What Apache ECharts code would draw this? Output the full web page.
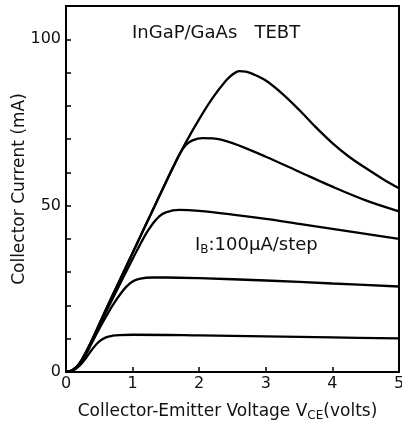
<!DOCTYPE html>
<html>
<head>
<meta charset="utf-8">
<script src="https://cdn.jsdelivr.net/npm/echarts@6/dist/echarts.min.js"></script>
<style>
  html, body { margin: 0; padding: 0; background: #fff; }
  #chart { width: 402px; height: 425px; }
</style>
</head>
<body>
<div id="chart"></div>
<script>
// V_CE (volts), I_C (mA) pairs, one curve per base step
const curve1 = [[0,0],[0.1,0.4],[0.2,1.8],[0.3,4.2],[0.4,7],[0.5,9.2],[0.6,10.4],[0.7,10.9],[0.8,11.1],[1.0,11.2],[2.0,11],[3.0,10.7],[4.0,10.4],[5.0,10.1]]
const curve2 = [[0,0],[0.1,0.5],[0.2,2.2],[0.3,5.3],[0.4,9.2],[0.5,13],[0.6,16.6],[0.7,20],[0.8,23],[0.9,25.5],[1.0,27.2],[1.1,28],[1.3,28.4],[1.5,28.4],[2.0,28.2],[3.0,27.5],[4.0,26.6],[5.0,25.7]]
const curve3 = [[0,0],[0.1,0.6],[0.2,2.4],[0.3,5.8],[0.4,9.8],[0.6,18],[0.8,26],[1.0,34],[1.2,41.5],[1.3,44.5],[1.4,46.8],[1.5,48],[1.7,48.7],[2.0,48.4],[2.5,47.3],[3.0,46],[3.5,44.5],[4.0,43],[4.5,41.5],[5.0,40]]
const curve4 = [[0,0],[0.1,0.6],[0.2,2.5],[0.3,6],[0.4,10],[0.6,18.8],[0.8,27.3],[1.0,35.8],[1.2,44.3],[1.4,52.8],[1.6,61.2],[1.7,65.3],[1.8,68.2],[1.9,69.6],[2.05,70.3],[2.2,70.2],[2.5,68.8],[3.0,64.7],[3.5,60.2],[4.0,55.7],[4.5,51.6],[5.0,48.3]]
const curve5 = [[0,0],[0.1,0.6],[0.2,2.5],[0.3,6],[0.4,10],[0.6,18.8],[0.8,27.3],[1.0,35.8],[1.2,44.3],[1.4,52.8],[1.6,61.2],[1.8,69],[2.0,76],[2.2,82.3],[2.4,87.5],[2.5,89.4],[2.6,90.4],[2.7,90.3],[2.8,89.6],[3.0,87.6],[3.25,83.6],[3.5,78.8],[3.75,73.6],[4.0,68.8],[4.25,64.7],[4.5,61.3],[4.75,58.1],[5.0,55.2]]
const curves = [curve1, curve2, curve3, curve4, curve5]
const yLabels = [0, 50, 100]

const chart = echarts.init(document.getElementById('chart'))
const font = 'DejaVu Sans'

const option = {
  animation: false,
  backgroundColor: '#fff',
  grid: {
    left: 66, right: 3, top: 6, bottom: 53,
    outerBoundsMode: 'none',
    show: true, borderColor: '#000', borderWidth: 2
  },
  title: {
    text: 'InGaP/GaAs   TEBT',
    left: 127, top: 19,
    textStyle: { fontFamily: font, fontSize: 18, fontWeight: 'normal', color: '#111' }
  },
  graphic: [{
    type: 'text',
    left: 195, top: 236,
    style: {
      text: '{n|I}{s|B}{n|:100μA/step}',
      rich: {
        n: { fontFamily: font, fontSize: 18, fill: '#111' },
        s: { fontFamily: font, fontSize: 12, fill: '#111', padding: [9, 0, 0, 0] }
      }
    }
  }],
  xAxis: {
    type: 'value', min: 0, max: 5, interval: 1,
    name: 'Collector-Emitter Voltage V{s|CE}(volts)',
    nameLocation: 'middle', nameGap: 29,
    nameTextStyle: {
      fontFamily: font, fontSize: 17, color: '#111', padding: [0, 10, 0, 0],
      rich: { s: { fontFamily: font, fontSize: 12, color: '#111', padding: [9, 0, 0, 0] } }
    },
    axisLine: { lineStyle: { color: '#000', width: 2 } },
    axisTick: { inside: true, length: 5, lineStyle: { color: '#000', width: 1.5 } },
    axisLabel: { fontFamily: font, fontSize: 16, color: '#111', margin: 4 },
    splitLine: { show: false }
  },
  yAxis: {
    type: 'value', min: 0, max: 110, interval: 10,
    name: 'Collector Current (mA)',
    nameLocation: 'middle', nameGap: 38, nameMoveOverlap: false,
    nameTextStyle: { fontFamily: font, fontSize: 17, color: '#111' },
    axisLine: { lineStyle: { color: '#000', width: 2 } },
    axisTick: { inside: true, length: 5, lineStyle: { color: '#000', width: 1.5 } },
    axisLabel: {
      fontFamily: font, fontSize: 16, color: '#111', margin: 5,
      formatter: v => yLabels.includes(v) ? String(v) : ''
    },
    splitLine: { show: false }
  },
  series: curves.map((c, i) => ({
    name: 'I' + (i + 1),
    type: 'line',
    data: c,
    smooth: 0.35,
    showSymbol: false,
    lineStyle: { color: '#000', width: 2.3 }
  }))
}

chart.setOption(option)
</script>
</body>
</html>
